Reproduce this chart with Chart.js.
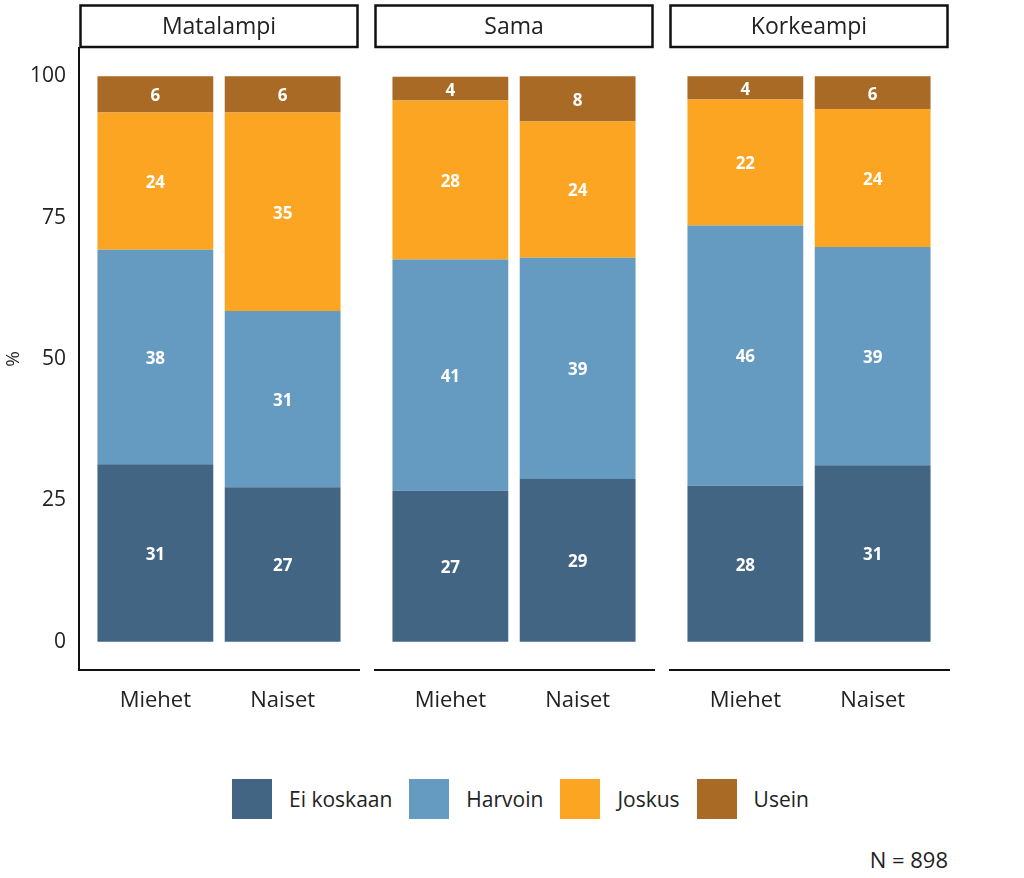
<!DOCTYPE html>
<html>
<head>
<meta charset="utf-8">
<script src="https://cdn.jsdelivr.net/npm/chart.js@4.4.0/dist/chart.umd.min.js"></script>
<style>
  body { margin: 0; background: #fff; font-family: "Open Sans", sans-serif; color: #222; }
  #wrap { position: relative; width: 1024px; height: 878px; overflow: hidden; }
  canvas { position: absolute; top: 0; }
  #legend { position: absolute; left: 232px; top: 779px; display: flex; align-items: center; }
  .item { display: flex; align-items: center; margin-right: 17px; font-size: 21px; }
  .key { width: 40px; height: 40px; margin-right: 17px; }
  #note { position: absolute; right: 76px; top: 844px; font-size: 22px; }
</style>
</head>
<body>
<div id="wrap">
  <canvas id="c0" width="360" height="730" style="left:0px"></canvas>
  <canvas id="c1" width="281" height="730" style="left:374px"></canvas>
  <canvas id="c2" width="281" height="730" style="left:669px"></canvas>
  <div id="legend"></div>
  <div id="note">N = 898</div>
</div>
<script>
// facets, bars in each facet, answer options
var panels = ['Matalampi', 'Sama', 'Korkeampi'];
var genders = ['Miehet', 'Naiset'];
var series = ['Ei koskaan', 'Harvoin', 'Joskus', 'Usein'];
var colors = ['#436584', '#659bc0', '#fca522', '#a86a24'];
var yTicks = [0, 25, 50, 75, 100];

// values per series: Matalampi M, N, Sama M, N, Korkeampi M, N  (%)
var eiKoskaan = [31.4, 27.3, 26.7, 28.8, 27.6, 31.2];
var harvoin   = [37.9, 31.2, 40.9, 39.1, 46.0, 38.6];
var joskus    = [24.3, 35.1, 28.1, 24.1, 22.3, 24.4];
var usein     = [6.4, 6.4, 4.2, 8.0, 4.1, 5.8];
var values = [eiKoskaan, harvoin, joskus, usein];

var font = '"Open Sans", sans-serif';

var stripPlugin = {
  id: 'strip',
  afterDraw: function(chart) {
    var ctx = chart.ctx, a = chart.chartArea;
    ctx.save();
    ctx.strokeStyle = '#111';
    ctx.lineWidth = 2.5;
    ctx.strokeRect(a.left + 1.5, 5.5, a.right - a.left - 3, 41.5);
    ctx.fillStyle = '#222';
    ctx.font = '23px ' + font;
    ctx.textAlign = 'center';
    ctx.textBaseline = 'middle';
    ctx.fillText(chart.options.plugins.strip.title, (a.left + a.right) / 2, 27);
    ctx.restore();
  }
};

var labelPlugin = {
  id: 'barLabels',
  afterDatasetsDraw: function(chart) {
    var ctx = chart.ctx;
    ctx.save();
    ctx.fillStyle = '#fff';
    ctx.font = 'bold 17px ' + font;
    ctx.textAlign = 'center';
    ctx.textBaseline = 'middle';
    chart.data.datasets.forEach(function(ds, i) {
      chart.getDatasetMeta(i).data.forEach(function(el, j) {
        ctx.fillText(Math.round(ds.data[j].y), el.x, (el.y + el.base) / 2 + 2);
      });
    });
    ctx.restore();
  }
};

function makeChart(p) {
  var first = p === 0;
  var datasets = series.map(function(name, s) {
    return {
      label: name,
      backgroundColor: colors[s],
      data: genders.map(function(g, k) { return { x: k + 1, y: values[s][p * 2 + k] }; }),
      categoryPercentage: 1,
      barPercentage: 0.91
    };
  });
  return new Chart(document.getElementById('c' + p), {
    type: 'bar',
    data: { datasets: datasets },
    plugins: [stripPlugin, labelPlugin],
    options: {
      responsive: false,
      animation: false,
      layout: { padding: { top: 48, right: 1, left: 0, bottom: 0 } },
      plugins: {
        legend: { display: false },
        tooltip: { enabled: false },
        strip: { title: panels[p] }
      },
      scales: {
        x: {
          type: 'linear', min: 0.4, max: 2.6, offset: false, stacked: true,
          grid: { display: false, drawTicks: false, offset: false },
          border: { display: true, color: '#111', width: 2 },
          afterBuildTicks: function(sc) { sc.ticks = genders.map(function(g, k) { return { value: k + 1 }; }); },
          afterFit: function(sc) { sc.height = 60; },
          ticks: {
            autoSkip: false, maxRotation: 0, padding: 18, color: '#222',
            font: { family: font, size: 22 },
            callback: function(v) { return genders[v - 1]; }
          }
        },
        y: {
          display: first, min: -5, max: 105, stacked: true,
          grid: { display: false, drawTicks: false },
          border: { display: true, color: '#111', width: 2 },
          afterBuildTicks: function(sc) { sc.ticks = yTicks.map(function(v) { return { value: v }; }); },
          afterFit: function(sc) { if (first) sc.width = 79; },
          title: { display: true, text: '%', color: '#222', font: { family: font, size: 19 }, padding: { top: 2, bottom: 0 } },
          ticks: { padding: 13, color: '#222', font: { family: font, size: 21 } }
        }
      }
    }
  });
}

panels.forEach(function(name, p) { makeChart(p); });

var legend = document.getElementById('legend');
series.forEach(function(name, s) {
  var item = document.createElement('div');
  item.className = 'item';
  item.innerHTML = '<div class="key" style="background:' + colors[s] + '"></div><span>' + name + '</span>';
  legend.appendChild(item);
});
</script>
</body>
</html>
